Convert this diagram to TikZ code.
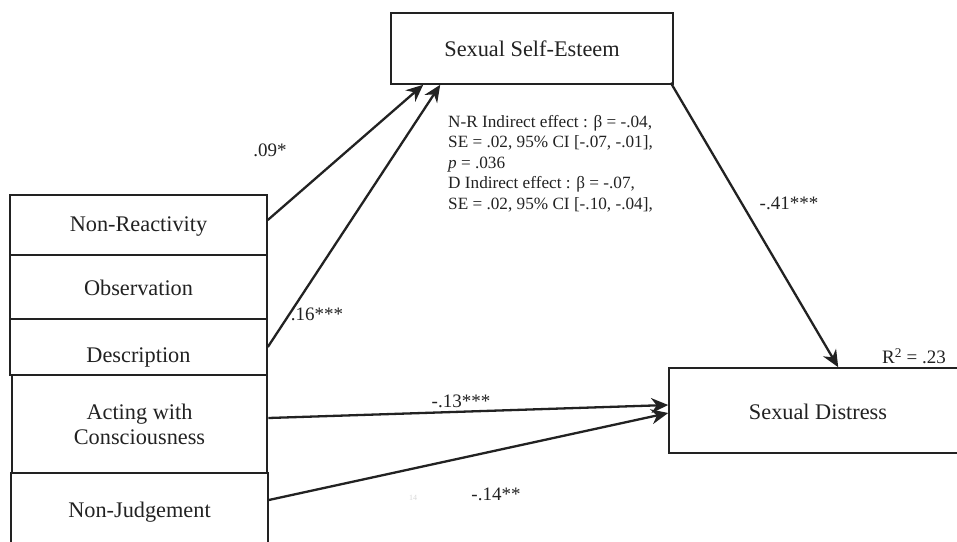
\documentclass[tikz,border=0pt]{standalone}
\usepackage{fontspec}
\setmainfont{Liberation Serif}
\usetikzlibrary{arrows.meta}
\definecolor{ink}{HTML}{222222}
\begin{document}
\begin{tikzpicture}[x=1pt,y=-1pt,
  box/.style={draw=ink,line width=1.6pt,minimum width=257pt,inner sep=0pt,text=ink,font=\fontsize{22.3}{25}\selectfont,align=center},
  txt/.style={text=ink,font=\fontsize{22.3}{25}\selectfont,inner sep=0pt},
  path/.style={draw=ink,line width=2.3pt,-{Stealth[length=17pt,width=15pt]}},
  lab/.style={text=ink,font=\fontsize{19}{22}\selectfont,inner sep=0pt}]
\useasboundingbox (0,0) rectangle (957,541);
\clip (0,0) rectangle (957,541);
\fill[white] (0,0) rectangle (957,541);
% left stack
\node[box,minimum height=60pt] (nr) at (138.5,225) {};
\node[txt] at (138.5,227) {Non-Reactivity};
\node[box,minimum height=64pt] (obs) at (138.5,287) {};
\node[txt] at (138.5,288) {Observation};
\node[box,minimum height=56pt] (des) at (138.5,347) {};
\node[txt] at (138.5,357) {Description};
\node[box,minimum height=87pt] (nj) at (139.5,516.5) {};
\node[txt] at (139.5,512) {Non-Judgement};
\node[box,line width=2.6pt,minimum height=98pt,minimum width=255pt] (act) at (139.5,424) {Acting with\\Consciousness};
% mediator and outcome
\node[box,minimum width=282pt,minimum height=71pt] (sse) at (532,48.5) {Sexual Self-Esteem};
\node[box,minimum width=330pt,minimum height=85pt] (sd) at (834,410.5) {};
\node[txt] at (818,412) {Sexual Distress};
% coordinates
\coordinate (nrS) at ([yshift=5pt]nr.east);
\coordinate (desS) at (des.east);
\coordinate (actS) at ([yshift=6pt]act.east);
\coordinate (njS) at ([yshift=16.5pt]nj.east);
\coordinate (sseA) at ([xshift=33pt]sse.south west);
\coordinate (sseB) at ([xshift=50pt]sse.south west);
\coordinate (sseC) at ([xshift=-3pt,yshift=2pt]sse.south east);
\coordinate (sdT) at ([xshift=170pt]sd.north west);
\coordinate (sdA) at ([yshift=5.5pt]sd.west);
\coordinate (sdB) at ([yshift=-2.5pt]sd.west);
% paths
\draw[path] (nrS) -- (sseA);
\draw[path] (desS) -- (sseB);
\draw[path] (sseC) -- (sdT);
\draw[path] (actS) -- (sdA);
\draw[path] (njS) -- (sdB);
% labels
\node[lab] (l1) at (270,150) {.09*};
\node[lab] (l2) at (317,314) {.16***};
\node[lab] (l3) at (789,203) {-.41***};
\node[lab] (l4) at (461,401) {-.13***};
\node[lab] (l5) at (496,494) {-.14**};
\node[lab] (r2) at (914,356) {R\textsuperscript{2} = .23};
\node[text=black!15,font=\fontsize{8}{10}\selectfont,inner sep=0pt] (faint) at (413,498) {14};
\node[text=ink,font=\fontsize{17.2}{20.5}\selectfont,align=left,anchor=north west,inner sep=0pt] (ind) at (448,115)
 {N-R Indirect effect : β = -.04,\\
  SE = .02, 95\% CI [-.07, -.01],\\
  \textit{p} = .036\\
  D Indirect effect : β = -.07,\\
  SE = .02, 95\% CI [-.10, -.04],};
\end{tikzpicture}
\end{document}
